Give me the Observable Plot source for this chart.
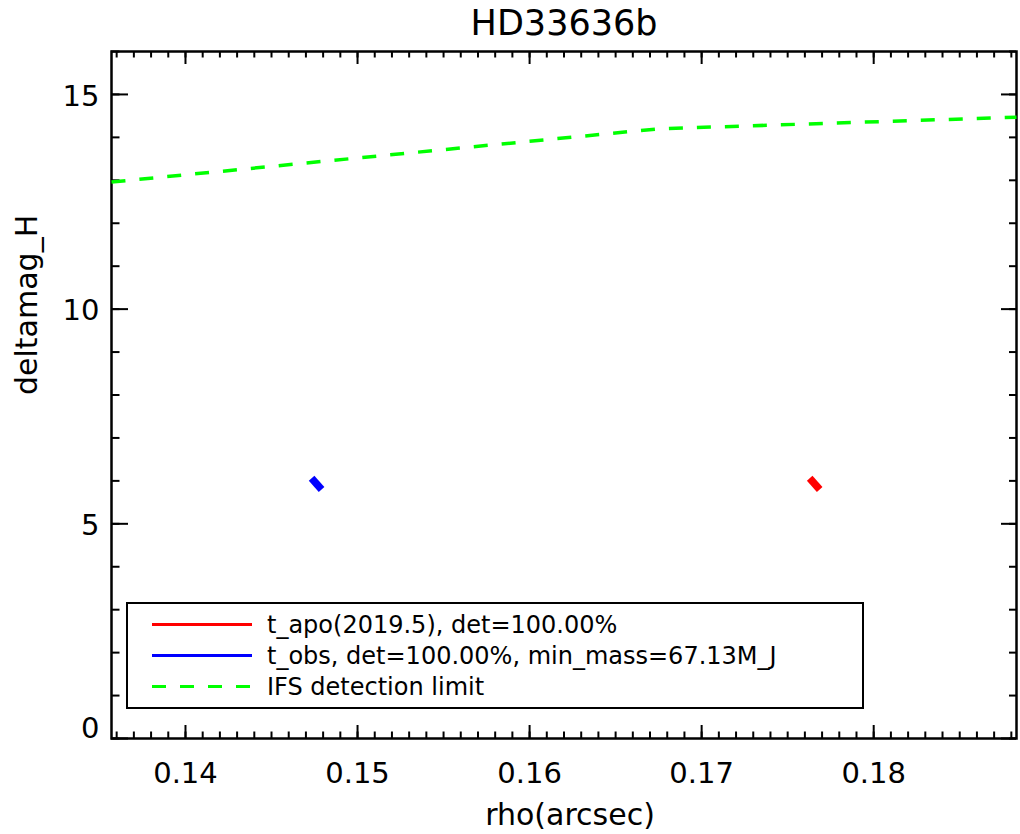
<!DOCTYPE html>
<html>
<head>
<meta charset="utf-8">
<script src="https://cdn.jsdelivr.net/npm/d3@7"></script>
<script src="https://cdn.jsdelivr.net/npm/@observablehq/plot@0.6"></script>
<style>
  html, body { margin: 0; padding: 0; background: #fff; }
  #chart { width: 1020px; height: 834px; }
</style>
</head>
<body>
<div id="chart"></div>
<script>
// Labels
const titleText = "HD33636b";
const xLabel = "rho(arcsec)";
const yLabel = "deltamag_H";

// Axis ranges and ticks
const rhoDomain = [0.1357, 0.1883];
const dmagDomain = [0, 16];
const rhoMajor = [0.14, 0.15, 0.16, 0.17, 0.18];
const rhoMinor = d3.range(136, 189).map(d => d / 1000);
const dmagMajor = [0, 5, 10, 15];
const dmagMinor = d3.range(0, 17);

// IFS detection limit curve
const limitRho = [0.1357, 0.1500, 0.1675, 0.1883];
const limitDmag = [12.96, 13.52, 14.20, 14.47];

// Planet track at the observation epoch and at apoastron
const obsRho = [0.14733, 0.14791];
const obsDmag = [6.06, 5.80];
const apoRho = [0.17628, 0.17686];
const apoDmag = [6.06, 5.80];

// Legend
const legendLabels = [
  "t_apo(2019.5), det=100.00%",
  "t_obs, det=100.00%, min_mass=67.13M_J",
  "IFS detection limit"
];
const legendColors = ["#ff0000", "#0000ff", "#00ff00"];
const legendDash = [null, null, "14,14"];

const toPoints = (xs, ys) => xs.map((x, i) => ({rho: x, dmag: ys[i]}));
const limit = toPoints(limitRho, limitDmag);
const obs = toPoints(obsRho, obsDmag);
const apo = toPoints(apoRho, apoDmag);

const W = 1020, H = 834;
const mTop = 51, mLeft = 111, mRight = 4, mBottom = 96;
const innerW = W - mLeft - mRight;
const innerH = H - mTop - mBottom;

const tickStyle = {stroke: "black", strokeWidth: 2};

const chart = Plot.plot({
  width: W,
  height: H,
  marginTop: mTop,
  marginLeft: mLeft,
  marginRight: mRight,
  marginBottom: mBottom,
  style: {fontFamily: "'DejaVu Sans', sans-serif", background: "white", color: "black"},
  x: {domain: rhoDomain, axis: null},
  y: {domain: dmagDomain, axis: null},
  marks: [
    // inward ticks on all four sides
    Plot.tickX(rhoMinor, {x: d => d, insetTop: innerH - 6.5, ...tickStyle}),
    Plot.tickX(rhoMinor, {x: d => d, insetBottom: innerH - 6.5, ...tickStyle}),
    Plot.tickX(rhoMajor, {x: d => d, insetTop: innerH - 13, ...tickStyle}),
    Plot.tickX(rhoMajor, {x: d => d, insetBottom: innerH - 13, ...tickStyle}),
    Plot.tickY(dmagMinor, {y: d => d, insetRight: innerW - 8.5, ...tickStyle}),
    Plot.tickY(dmagMinor, {y: d => d, insetLeft: innerW - 7, ...tickStyle}),
    Plot.tickY(dmagMajor, {y: d => d, insetRight: innerW - 17, ...tickStyle}),
    Plot.tickY(dmagMajor, {y: d => d, insetLeft: innerW - 15, ...tickStyle}),
    Plot.frame({stroke: "black", strokeWidth: 2.5}),

    // tick labels
    Plot.text(rhoMajor, {x: d => d, text: d => d.toFixed(2), frameAnchor: "bottom",
      dy: 35, lineAnchor: "middle", fontSize: 29, fill: "black"}),
    Plot.text(dmagMajor.filter(d => d > 0), {y: d => d, text: d => String(d), frameAnchor: "left",
      dx: -12, dy: 2, textAnchor: "end", lineAnchor: "middle", fontSize: 29, fill: "black"}),
    Plot.text(dmagMajor.filter(d => d === 0), {y: d => d, text: d => String(d), frameAnchor: "left",
      dx: -12, dy: -10, textAnchor: "end", lineAnchor: "middle", fontSize: 29, fill: "black"}),

    // axis titles and chart title
    Plot.text([xLabel], {frameAnchor: "bottom", dx: 6, dy: 77, lineAnchor: "middle", fontSize: 30, fill: "black"}),
    Plot.text([yLabel], {frameAnchor: "left", dx: -84, rotate: -90, lineAnchor: "middle", fontSize: 30, fill: "black"}),
    Plot.text([titleText], {frameAnchor: "top", dy: -28, lineAnchor: "middle", fontSize: 35, fill: "black"}),

    // data
    Plot.line(limit, {x: "rho", y: "dmag", stroke: "#00ff00", strokeWidth: 3.5,
      strokeDasharray: "14,14", strokeLinecap: "butt"}),
    Plot.line(obs, {x: "rho", y: "dmag", stroke: "#0000ff", strokeWidth: 7.5, strokeLinecap: "butt"}),
    Plot.line(apo, {x: "rho", y: "dmag", stroke: "#ff0000", strokeWidth: 7.5, strokeLinecap: "butt"})
  ]
});

// Boxed legend in the lower-left corner of the plot area
const svg = d3.select(chart);
const lg = svg.append("g").attr("class", "legend").attr("text-anchor", "start");
lg.append("rect")
  .attr("x", 127).attr("y", 603).attr("width", 736).attr("height", 105)
  .attr("fill", "white").attr("stroke", "black").attr("stroke-width", 2);
legendLabels.forEach((label, i) => {
  const cy = 624.5 + i * 31;
  lg.append("line")
    .attr("x1", 152).attr("x2", 252).attr("y1", cy).attr("y2", cy)
    .attr("stroke", legendColors[i]).attr("stroke-width", 3)
    .attr("stroke-dasharray", legendDash[i]);
  lg.append("text")
    .attr("x", 267).attr("y", cy).attr("dy", "0.36em")
    .attr("text-anchor", "start")
    .attr("font-size", 24).attr("fill", "black")
    .style("font-family", "'DejaVu Sans', sans-serif")
    .text(label);
});

document.getElementById("chart").appendChild(chart);
</script>
</body>
</html>
